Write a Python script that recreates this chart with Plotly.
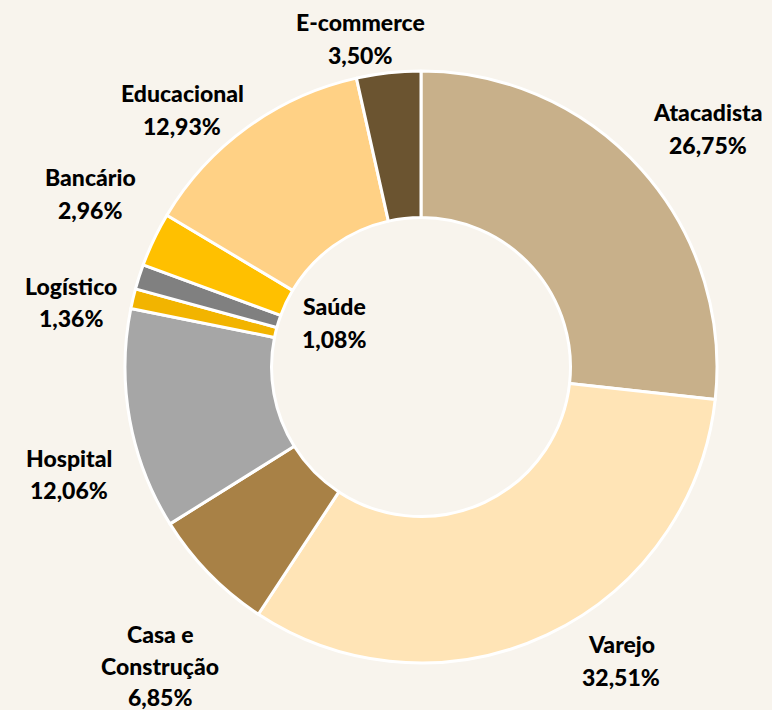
import plotly.graph_objects as go

categories = ["Atacadista", "Varejo", "Casa e Construção", "Hospital", "Saúde",
              "Logístico", "Bancário", "Educacional", "E-commerce"]
values = [26.75, 32.51, 6.85, 12.06, 1.08, 1.36, 2.96, 12.93, 3.50]
label_lines = [["Atacadista"], ["Varejo"], ["Casa e", "Construção"], ["Hospital"], ["Saúde"],
               ["Logístico"], ["Bancário"], ["Educacional"], ["E-commerce"]]
colors = ["#C8B08A", "#FFE4B6", "#A88146", "#A6A6A6", "#F2B400",
          "#808080", "#FFC000", "#FFD185", "#6B5430"]

# label first-line centre positions (pixels in the 772x710 canvas)
label_pos = [(708, 112), (621, 644), (160, 634), (69, 458), (334, 306),
             (71, 286), (90, 177), (182, 93), (360, 22)]
LINE_STEPS = [33, 33, 31.5, 32, 33, 32, 33, 33, 33]

W, H = 772, 710
BG = "#F8F4ED"

fig = go.Figure(go.Pie(
    labels=categories, values=values, sort=False, direction="clockwise",
    rotation=0, hole=0.505, marker=dict(colors=colors, line=dict(color="white", width=3)),
    textinfo="none", hoverinfo="label+percent", showlegend=False,
    domain=dict(x=[125 / W, 717 / W], y=[1 - 663 / H, 1 - 71 / H]),
))

def fmt(v):
    return f"{v:.2f}".replace(".", ",") + "%"

for lines, v, (px, py), step in zip(label_lines, values, label_pos, LINE_STEPS):
    for i, line in enumerate(lines + [fmt(v)]):
        fig.add_annotation(
            x=px / W, y=1 - (py + i * step) / H, xref="paper", yref="paper",
            text=line, showarrow=False,
            xanchor="center", yanchor="middle", align="center",
            font=dict(family="Lato, Open Sans, sans-serif", size=23, color="#000000",
                      weight=900),
        )

fig.update_layout(
    width=W, height=H, margin=dict(l=0, r=0, t=0, b=0),
    paper_bgcolor=BG, plot_bgcolor=BG,
)

fig.write_html(
    "out.html",
    config={"displayModeBar": False},
    post_script="document.body.style.margin='0';document.body.style.background='%s';" % BG,
)
